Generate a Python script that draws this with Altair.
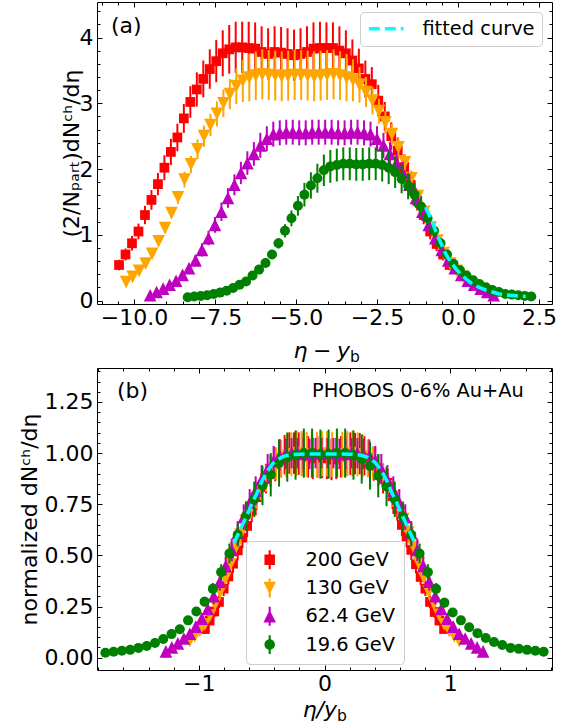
import altair as alt
import numpy as np
import pandas as pd

FONT = "DejaVu Sans"

ENERGIES = ["200 GeV", "130 GeV", "62.4 GeV", "19.6 GeV"]
Y_BEAM = [5.36, 4.94, 4.20, 3.04]
COLORS = ["#ff0000", "#ffa500", "#bf00bf", "#008000"]

ETA_200 = [-5.1, -4.9, -4.7, -4.5, -4.3, -4.1, -3.9, -3.7, -3.5, -3.3, -3.1, -2.9, -2.7,
           -2.5, -2.3, -2.1, -1.9, -1.7, -1.5, -1.3, -1.1, -0.9, -0.7, -0.5, -0.3, -0.1,
           0.1, 0.3, 0.5, 0.7, 0.9, 1.1, 1.3, 1.5, 1.7, 1.9, 2.1, 2.3, 2.5, 2.7, 2.9, 3.1,
           3.3, 3.5, 3.7, 3.9, 4.1, 4.3, 4.5, 4.7, 4.9, 5.1]
ETA = [-5.3, -5.1, -4.9, -4.7, -4.5, -4.3, -4.1, -3.9, -3.7, -3.5, -3.3, -3.1, -2.9, -2.7,
       -2.5, -2.3, -2.1, -1.9, -1.7, -1.5, -1.3, -1.1, -0.9, -0.7, -0.5, -0.3, -0.1,
       0.1, 0.3, 0.5, 0.7, 0.9, 1.1, 1.3, 1.5, 1.7, 1.9, 2.1, 2.3, 2.5, 2.7, 2.9, 3.1,
       3.3, 3.5, 3.7, 3.9, 4.1, 4.3, 4.5, 4.7, 4.9, 5.1, 5.3]

DN_200 = [0.54, 0.70, 0.87, 1.05, 1.30, 1.53, 1.77, 2.02, 2.26, 2.48, 2.77, 3.02, 3.21, 3.37,
          3.52, 3.64, 3.76, 3.82, 3.85, 3.85,
          3.84, 3.83, 3.78, 3.75, 3.78, 3.77, 3.75, 3.73, 3.75, 3.78, 3.83, 3.84,
          3.84, 3.84, 3.80, 3.76, 3.65, 3.53, 3.37, 3.29, 3.04, 2.80, 2.50, 2.28, 2.03, 1.76,
          1.52, 1.30, 1.05, 0.86, 0.70, 0.54]
ERR_200 = [0.08, 0.09, 0.11, 0.12, 0.14, 0.15, 0.17, 0.19, 0.20, 0.21, 0.22, 0.24, 0.26, 0.28,
           0.30, 0.32, 0.35, 0.37, 0.39, 0.39,
           0.40, 0.40, 0.39, 0.39, 0.39, 0.39, 0.39, 0.39, 0.39, 0.39, 0.40, 0.40,
           0.39, 0.39, 0.37, 0.35, 0.32, 0.30, 0.28, 0.26, 0.24, 0.22, 0.21, 0.20, 0.19, 0.17,
           0.15, 0.14, 0.12, 0.11, 0.09, 0.08]

DN_130 = [0.28, 0.36, 0.45, 0.56, 0.71, 0.90, 1.10, 1.33, 1.57, 1.84, 2.07, 2.30, 2.50, 2.67,
          2.84, 3.00, 3.14, 3.26, 3.34, 3.39,
          3.42, 3.44, 3.43, 3.42, 3.41, 3.42, 3.43, 3.43, 3.42, 3.41, 3.42, 3.43, 3.44, 3.42,
          3.39, 3.35, 3.28, 3.17, 3.04, 2.88, 2.71, 2.53, 2.33, 2.10, 1.86, 1.59, 1.35, 1.11,
          0.91, 0.72, 0.56, 0.45, 0.36, 0.28]
ERR_130 = [0.03, 0.03, 0.04, 0.04, 0.05, 0.06, 0.07, 0.08, 0.10, 0.12, 0.13, 0.15, 0.16, 0.17,
           0.19, 0.21, 0.23, 0.27, 0.32, 0.36,
           0.37, 0.38, 0.38, 0.38, 0.38, 0.38, 0.38, 0.38, 0.38, 0.38, 0.38, 0.38, 0.38, 0.37,
           0.36, 0.32, 0.27, 0.23, 0.21, 0.19, 0.17, 0.16, 0.15, 0.13, 0.12, 0.10, 0.08, 0.07,
           0.06, 0.05, 0.04, 0.04, 0.03, 0.03]

DN_62 = [0.08, 0.13, 0.18, 0.24, 0.30, 0.39, 0.49, 0.61, 0.77, 0.95, 1.15, 1.35, 1.56, 1.76,
         1.94, 2.09, 2.23, 2.36, 2.46, 2.53,
         2.55, 2.56, 2.56, 2.55, 2.55, 2.56, 2.56, 2.56, 2.56, 2.55, 2.55, 2.56, 2.56, 2.55,
         2.53, 2.46, 2.36, 2.23, 2.09, 1.94, 1.76, 1.56, 1.35, 1.15, 0.95, 0.77, 0.61, 0.49,
         0.39, 0.30, 0.24, 0.18, 0.13, 0.08]
ERR_62 = [0.02, 0.03, 0.03, 0.04, 0.05, 0.06, 0.07, 0.08, 0.10, 0.11, 0.12, 0.14, 0.15, 0.16,
          0.17, 0.18, 0.18, 0.19, 0.19, 0.19,
          0.19, 0.19, 0.19, 0.19, 0.19, 0.19, 0.19, 0.19, 0.19, 0.19, 0.19, 0.19, 0.19, 0.19,
          0.19, 0.19, 0.19, 0.18, 0.18, 0.17, 0.16, 0.15, 0.14, 0.12, 0.11, 0.10, 0.08, 0.07,
          0.06, 0.05, 0.04, 0.03, 0.03, 0.02]

DN_19 = [0.05, 0.06, 0.07, 0.08, 0.10, 0.12, 0.15, 0.19, 0.24, 0.29, 0.38, 0.47, 0.57, 0.70,
         0.87, 1.06, 1.25, 1.44, 1.61, 1.75, 1.86, 1.98, 2.04,
         2.06, 2.08, 2.08, 2.07, 2.07, 2.08, 2.08, 2.06,
         2.02, 1.95, 1.85, 1.74, 1.61, 1.43, 1.25, 1.06, 0.87, 0.70, 0.56, 0.46, 0.38, 0.31,
         0.25, 0.20, 0.16, 0.13, 0.10, 0.09, 0.08, 0.07, 0.06]
ERR_19 = [0.01, 0.01, 0.01, 0.01, 0.01, 0.01, 0.02, 0.02, 0.02, 0.03, 0.03, 0.04, 0.05, 0.06,
          0.08, 0.10, 0.12, 0.15, 0.18, 0.20, 0.22, 0.24, 0.25,
          0.25, 0.25, 0.25, 0.25, 0.25, 0.25, 0.25, 0.25,
          0.25, 0.24, 0.22, 0.20, 0.18, 0.15, 0.12, 0.10, 0.08, 0.06, 0.05, 0.04, 0.03, 0.03,
          0.02, 0.02, 0.02, 0.01, 0.01, 0.01, 0.01, 0.01, 0.01]

FIT_A_X = [-1.00, -0.90, -0.79, -0.69, -0.59, -0.48, -0.38, -0.28, -0.18, -0.08, 0.03, 0.14,
           0.24, 0.34, 0.44, 0.55, 0.65, 0.75, 0.85, 0.96, 1.06, 1.17, 1.27, 1.37, 1.47, 1.58,
           1.68, 1.78, 1.88, 1.99, 2.09]
FIT_A_Y = [1.42, 1.31, 1.19, 1.06, 0.94, 0.82, 0.71, 0.63, 0.56, 0.49, 0.43, 0.38, 0.33, 0.29,
           0.25, 0.22, 0.20, 0.18, 0.16, 0.145, 0.13, 0.115, 0.10, 0.095, 0.087, 0.081, 0.076,
           0.071, 0.067, 0.064, 0.061]
FIT_B_X = [-0.72, -0.69, -0.66, -0.63, -0.60, -0.57, -0.54, -0.50, -0.47, -0.44, -0.41, -0.38,
           -0.34, -0.30, -0.25, -0.20, -0.10, 0.0, 0.10, 0.20, 0.25, 0.30, 0.34, 0.38, 0.41,
           0.44, 0.47, 0.50, 0.54, 0.57, 0.60, 0.63, 0.66, 0.69, 0.72]
FIT_B_Y = [0.56, 0.60, 0.64, 0.68, 0.72, 0.765, 0.80, 0.86, 0.895, 0.925, 0.95, 0.965, 0.98,
           0.988, 0.993, 0.995, 0.996, 0.996, 0.996, 0.995, 0.993, 0.988, 0.98, 0.965, 0.95,
           0.925, 0.895, 0.86, 0.80, 0.765, 0.72, 0.68, 0.64, 0.60, 0.56]

XA_MAJOR = [-10.0, -7.5, -5.0, -2.5, 0.0, 2.5]
YA_MAJOR = [0, 1, 2, 3, 4]
XB_MAJOR = [-1, 0, 1]
YB_MAJOR = [0.0, 0.25, 0.5, 0.75, 1.0, 1.25]

# ---------------- data tables ----------------
series_eta = [ETA_200, ETA, ETA, ETA]
series_dn = [DN_200, DN_130, DN_62, DN_19]
series_err = [ERR_200, ERR_130, ERR_62, ERR_19]
frames = []
for name, yb, eta, dn, err in zip(ENERGIES, Y_BEAM, series_eta, series_dn, series_err):
    d = pd.DataFrame({"eta": eta, "y": dn, "err": err})
    d["series"] = name
    d["xa"] = d["eta"] - yb
    d["lo"] = d["y"] - d["err"]
    d["hi"] = d["y"] + d["err"]
    norm = d["y"].max()
    d["xb"] = d["eta"] / yb
    d["yn"] = d["y"] / norm
    d["lon"] = d["lo"] / norm
    d["hin"] = d["hi"] / norm
    frames.append(d)
df = pd.concat(frames, ignore_index=True)
fit_a = pd.DataFrame({"x": FIT_A_X, "y": FIT_A_Y, "label": "fitted curve"})
fit_b = pd.DataFrame({"x": FIT_B_X, "y": FIT_B_Y})

W, H = 455, 302
XS_A = alt.Scale(domain=[-11.14, 2.90], nice=False, zero=False)
YS_A = alt.Scale(domain=[-0.053, 4.54], nice=False, zero=False)
XS_B = alt.Scale(domain=[-1.81, 1.81], nice=False, zero=False)
YS_B = alt.Scale(domain=[-0.06, 1.416], nice=False, zero=False)

XA_MINOR = [round(-11.0 + 0.5 * k, 2) for k in range(0, 28) if (k + 2) % 5 != 0]
YA_MINOR = [round(0.2 * k, 2) for k in range(0, 23) if k % 5 != 0]
XB_MINOR = [round(0.2 * k, 2) for k in range(-9, 10) if k % 5 != 0]
YB_MINOR = [round(0.05 * k, 2) for k in range(0, 29) if k % 5 != 0]

MAJ, MIN = 5, 3

SQUARE = "square"
TRI_DOWN = "M0,1L1,-1H-1Z"
TRI_UP = "M0,-1L1,1H-1Z"
CIRCLE = "circle"
SHAPES = [SQUARE, TRI_DOWN, TRI_UP, CIRCLE]
SIZES = [95, 160, 160, 100]
BAR = " M-0.2,-1.8H0.2V1.8H-0.2Z"
LEG_SHAPES = ["M-1,-1H1V1H-1Z" + BAR,
              "M-1.2,-1.2H1.2L0,1.2Z" + BAR,
              "M0,-1.2L1.2,1.2H-1.2Z" + BAR,
              "M1,0A1,1,0,1,1,-1,0A1,1,0,1,1,1,0Z" + BAR]


def tick_axis(orient, values, size, labels=False, **kw):
    args = dict(orient=orient, values=values, tickSize=size, offset=-size,
                domain=False, grid=False, ticks=True, tickColor="black", tickWidth=1,
                labels=labels, title=None)
    if labels:
        args.update(labelFont=FONT, labelFontSize=22, labelColor="black",
                    labelOverlap=False, labelFlush=False)
    args.update(kw)
    return alt.Axis(**args)


def axis_layer(data, xcol, ycol, xs, ys, xaxis, yaxis):
    return alt.Chart(data).mark_point(opacity=0).encode(
        x=alt.X(f"{xcol}:Q", scale=xs, axis=xaxis),
        y=alt.Y(f"{ycol}:Q", scale=ys, axis=yaxis),
    )


def axes(data, xcol, ycol, xs, ys, xmaj, xmin, ymaj, ymin, xfmt, yfmt, ytitle, ytx):
    ytitle_kw = dict(title=ytitle, titleFont=FONT, titleFontSize=22, titleFontWeight="normal",
                     titleColor="black", titleX=ytx, titleY=H / 2, titleAngle=270,
                     titleAlign="center", titleBaseline="middle")
    return [
        axis_layer(data, xcol, ycol, xs, ys,
                   tick_axis("bottom", xmaj, MAJ, labels=True, format=xfmt, labelPadding=3),
                   tick_axis("left", ymaj, MAJ, labels=True, format=yfmt, labelPadding=4,
                             **ytitle_kw)),
        axis_layer(data, xcol, ycol, xs, ys,
                   tick_axis("bottom", xmin, MIN), tick_axis("left", ymin, MIN)),
        axis_layer(data, xcol, ycol, xs, ys,
                   tick_axis("top", xmaj, MAJ), tick_axis("right", ymaj, MAJ)),
        axis_layer(data, xcol, ycol, xs, ys,
                   tick_axis("top", xmin, MIN), tick_axis("right", ymin, MIN)),
    ]


def series_layers(xcol, ycol, locol, hicol, xs, ys):
    out = []
    for name, color, shape, size in zip(ENERGIES, COLORS, SHAPES, SIZES):
        base = alt.Chart(df[df["series"] == name])
        out.append(base.mark_rule(color=color, strokeWidth=2).encode(
            x=alt.X(f"{xcol}:Q", scale=xs, axis=None),
            y=alt.Y(f"{locol}:Q", scale=ys, axis=None),
            y2=alt.Y2(f"{hicol}:Q"),
        ))
        out.append(base.mark_point(shape=shape, size=size, filled=True, color=color,
                                   opacity=1).encode(
            x=alt.X(f"{xcol}:Q", scale=xs, axis=None),
            y=alt.Y(f"{ycol}:Q", scale=ys, axis=None),
        ))
    return out


def label(text, x, y, size=22, style="normal", align="left", baseline="middle"):
    return alt.Chart(pd.DataFrame({"t": [text]})).mark_text(
        font=FONT, fontSize=size, fontStyle=style, align=align, baseline=baseline,
        color="black").encode(text="t:N", x=alt.value(x), y=alt.value(y))


# ---------------- panel (a) ----------------
legend_a = alt.Legend(title=None, orient="top-right", offset=10,
                      symbolType="M-2.9,0H2.9", symbolSize=144, symbolOffset=9.5,
                      symbolStrokeWidth=3.5, symbolDash=[11, 5],
                      labelFont=FONT, labelFontSize=19.4, labelColor="black", padding=7,
                      strokeColor="#cccccc", fillColor="#ffffff", cornerRadius=4,
                      labelOffset=26.5)
fit_layer_a = alt.Chart(fit_a).mark_line(strokeDash=[11, 5], strokeWidth=3.5).encode(
    x=alt.X("x:Q", scale=XS_A, axis=None),
    y=alt.Y("y:Q", scale=YS_A, axis=None),
    color=alt.Color("label:N", scale=alt.Scale(domain=["fitted curve"], range=["#00ffff"]),
                    legend=legend_a),
)
layers_a = axes(df, "xa", "y", XS_A, YS_A, XA_MAJOR, XA_MINOR, YA_MAJOR, YA_MINOR,
                ".1f", "d", "(2/N\u209a\u2090\u1d63\u209c)dN\u1d9c\u02b0/d\u03b7", -31)
layers_a += series_layers("xa", "y", "lo", "hi", XS_A, YS_A)
layers_a += [fit_layer_a,
             label("(a)", 14, 24),
             label("\u03b7\u2005\u2212\u2005y", 253, 356, style="italic", align="right",
                   baseline="alphabetic"),
             label("b", 253, 360, size=15.5, baseline="alphabetic")]
panel_a = alt.layer(*layers_a).resolve_axis(x="independent", y="independent").properties(
    width=W, height=H)

# ---------------- panel (b) ----------------
legend_b = alt.Legend(title=None, orient="none", legendX=149, legendY=173, symbolSize=110,
                      symbolOpacity=1, symbolStrokeWidth=0, symbolOffset=5, labelFont=FONT,
                      labelFontSize=19.4, labelColor="black", padding=9, rowPadding=7.3,
                      strokeColor="#cccccc", fillColor="#ffffff", cornerRadius=4,
                      labelOffset=26)
legend_layer_b = alt.Chart(df).mark_point(filled=True, opacity=0).encode(
    x=alt.X("xb:Q", scale=XS_B, axis=None),
    y=alt.Y("yn:Q", scale=YS_B, axis=None),
    color=alt.Color("series:N", scale=alt.Scale(domain=ENERGIES, range=COLORS), legend=legend_b),
    shape=alt.Shape("series:N", scale=alt.Scale(domain=ENERGIES, range=LEG_SHAPES),
                    legend=legend_b),
)
fit_layer_b = alt.Chart(fit_b).mark_line(strokeDash=[11, 5], strokeWidth=3.5,
                                         color="#00ffff").encode(
    x=alt.X("x:Q", scale=XS_B, axis=None),
    y=alt.Y("y:Q", scale=YS_B, axis=None),
)
layers_b = axes(df, "xb", "yn", XS_B, YS_B, XB_MAJOR, XB_MINOR, YB_MAJOR, YB_MINOR,
                "d", ".2f", "normalized dN\u1d9c\u02b0/d\u03b7", -73)
layers_b += series_layers("xb", "yn", "lon", "hin", XS_B, YS_B)
layers_b += [fit_layer_b,
             legend_layer_b,
             label("(b)", 20, 23),
             label("PHOBOS 0-6% Au+Au", 215, 23, size=19.4),
             label("\u03b7/y", 240, 349, style="italic", align="right", baseline="alphabetic"),
             label("b", 240, 353, size=15.5, baseline="alphabetic")]
panel_b = alt.layer(*layers_b).resolve_axis(x="independent", y="independent").properties(
    width=W, height=H)

chart = alt.vconcat(panel_a, panel_b, spacing=1).resolve_scale(
    color="independent", shape="independent"
).properties(
    padding={"left": 17, "top": 1, "right": 5, "bottom": 2}
).configure(font=FONT).configure_view(stroke="black", strokeWidth=1)

chart.save("out.html", embed_options={"renderer": "svg", "actions": False})
